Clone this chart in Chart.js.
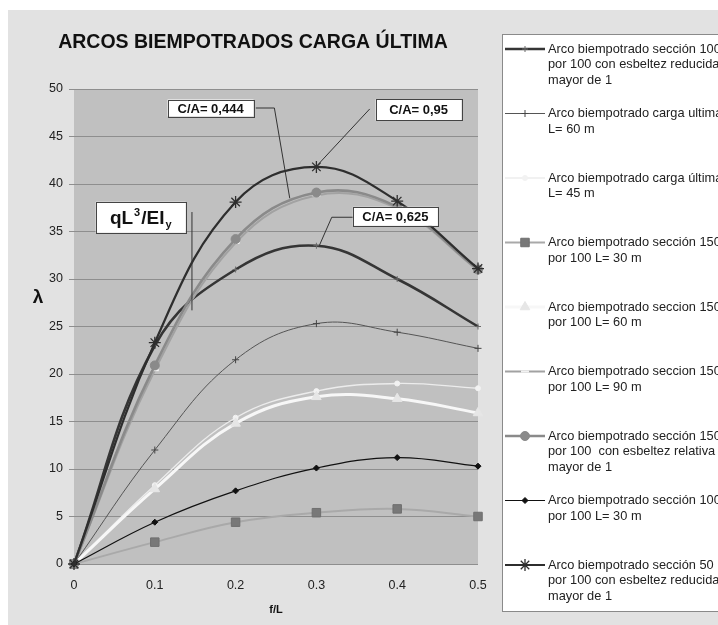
<!DOCTYPE html>
<html>
<head>
<meta charset="utf-8">
<script src="https://cdn.jsdelivr.net/npm/chart.js@4.4.1/dist/chart.umd.min.js"></script>
<style>
html,body{margin:0;padding:0;background:#fff;overflow:hidden;}
canvas{display:block;}
</style>
</head>
<body>
<canvas id="c" width="718" height="625"></canvas>
<script>
// ---------- DATA ----------
const fL = [0, 0.1, 0.2, 0.3, 0.4, 0.5];
const xTickLabels = ['0', '0.1', '0.2', '0.3', '0.4', '0.5'];

const s100EsbRed   = [0, 23.0, 31.0, 33.5, 30.0, 25.0];
const sCargaL60    = [0, 12.0, 21.5, 25.3, 24.4, 22.7];
const sCargaL45    = [0, 8.3, 15.4, 18.2, 19.0, 18.5];
const s150L30      = [0, 2.3, 4.4, 5.4, 5.8, 5.0];
const s150L60      = [0, 7.9, 14.8, 17.6, 17.4, 15.9];
const s150L90      = [0, 20.4, 33.8, 38.8, 37.4, 30.9];
const s150EsbRel   = [0, 20.9, 34.2, 39.1, 37.6, 31.0];
const s100L30      = [0, 4.4, 7.7, 10.1, 11.2, 10.3];
const s50EsbRed    = [0, 23.3, 38.1, 41.8, 38.2, 31.1];

const labels = [
  ['Arco biempotrado sección 100', 'por 100 con esbeltez reducida', 'mayor de 1'],
  ['Arco biempotrado carga ultima', 'L= 60 m'],
  ['Arco biempotrado carga última', 'L= 45 m'],
  ['Arco biempotrado sección 150', 'por 100 L= 30 m'],
  ['Arco biempotrado seccion 150', 'por 100 L= 60 m'],
  ['Arco biempotrado seccion 150', 'por 100 L= 90 m'],
  ['Arco biempotrado sección 150', 'por 100  con esbeltez relativa', 'mayor de 1'],
  ['Arco biempotrado sección 100', 'por 100 L= 30 m'],
  ['Arco biempotrado sección 50', 'por 100 con esbeltez reducida', 'mayor de 1']
];

const title = 'ARCOS BIEMPOTRADOS CARGA ÚLTIMA';
const xTitle = 'f/L';
const yTitle = 'λ';

// annotation anchors in data units
const notes = [
  {text: 'C/A= 0,444', at: [0.169, 48.0], w: 86, h: 17, path: [[0.225, 48.0], [0.248, 48.0], [0.267, 38.5]]},
  {text: 'C/A= 0,95',  at: [0.4265, 47.8], w: 86, h: 21, path: [[0.366, 47.9], [0.3015, 42.0]]},
  {text: 'C/A= 0,625', at: [0.3977, 36.6], w: 85, h: 19, path: [[0.345, 36.5], [0.319, 36.5], [0.303, 33.4]]}
];
const qNote = {at: [0.0826, 36.5], w: 90, h: 31, path: [[0.146, 37.05], [0.146, 26.7]]};

// ---------- STYLES ----------
const FONT = '"Liberation Sans", Arial, sans-serif';
const styles = [
  {c: '#353535', w: 2.6, ps: 'cross', r: 3, pc: '#6a6a6a', pf: '#6a6a6a', pw: 1},
  {c: '#555555', w: 1, ps: 'cross', r: 3.5, pc: '#444', pf: '#444', pw: 1},
  {c: '#ececec', w: 1.3, ps: 'circle', r: 2.5, pc: '#f2f2f2', pf: '#f2f2f2', pw: 1},
  {c: '#a9a9a9', w: 2, ps: 'rect', r: 6, pc: '#6f6f6f', pf: '#787878', pw: 1},
  {c: '#f7f7f7', w: 3, ps: 'triangle', r: 5.5, pc: '#e6e6e6', pf: '#e6e6e6', pw: 1},
  {c: '#a2a2a2', w: 2, ps: 'line', r: 4, pc: '#f2f2f2', pf: '#f2f2f2', pw: 2},
  {c: '#8a8a8a', w: 2.6, ps: 'circle', r: 4.5, pc: '#8a8a8a', pf: '#8a8a8a', pw: 1},
  {c: '#111111', w: 1.2, ps: 'rectRot', r: 3, pc: '#111', pf: '#111', pw: 1},
  {c: '#2e2e2e', w: 2.2, ps: 'star', r: 6, pc: '#2e2e2e', pf: '#2e2e2e', pw: 1.3}
];
const series = [s100EsbRed, sCargaL60, sCargaL45, s150L30, s150L60, s150L90, s150EsbRel, s100L30, s50EsbRed];

const datasets = series.map((s, i) => ({
  label: labels[i].join(' '),
  data: fL.map((x, j) => ({x: x, y: s[j]})),
  borderColor: styles[i].c,
  borderWidth: styles[i].w,
  pointStyle: styles[i].ps,
  pointRadius: styles[i].r,
  pointBorderColor: styles[i].pc,
  pointBackgroundColor: styles[i].pf,
  pointBorderWidth: styles[i].pw,
  tension: 0.4,
  fill: false,
  clip: false,
  order: series.length - i
}));

// ---------- PLUGINS ----------
const frame = {
  id: 'frame',
  beforeDraw(chart) {
    const ctx = chart.ctx, a = chart.chartArea;
    ctx.save();
    ctx.fillStyle = '#ffffff';
    ctx.fillRect(0, 0, chart.width, chart.height);
    ctx.fillStyle = '#e2e2e2';
    ctx.fillRect(8, 10, chart.width - 8, chart.height - 10);
    ctx.fillStyle = '#c0c0c0';
    ctx.fillRect(a.left, a.top, a.right - a.left, a.bottom - a.top);
    // title
    ctx.fillStyle = '#111';
    ctx.font = 'bold 19.5px ' + FONT;
    ctx.textAlign = 'center';
    ctx.textBaseline = 'middle';
    ctx.fillText(title, 253, 43);
    // axis titles
    ctx.font = 'bold 11px ' + FONT;
    ctx.fillText(xTitle, (a.left + a.right) / 2, 610);
    ctx.font = 'bold 19px ' + FONT;
    ctx.fillText(yTitle, 38, 298);
    ctx.restore();
  }
};

const notesPlugin = {
  id: 'notes',
  afterDatasetsDraw(chart) {
    const ctx = chart.ctx, xs = chart.scales.x, ys = chart.scales.y;
    const P = (p) => [xs.getPixelForValue(p[0]), ys.getPixelForValue(p[1])];
    ctx.save();
    ctx.strokeStyle = '#333';
    ctx.lineWidth = 1;
    const box = (cx, cy, w, h) => {
      ctx.fillStyle = '#ffffff';
      ctx.fillRect(cx - w / 2, cy - h / 2, w, h);
      ctx.strokeStyle = '#444';
      ctx.strokeRect(Math.round(cx - w / 2) + 0.5, Math.round(cy - h / 2) + 0.5, w, h);
    };
    const path = (pts) => {
      ctx.beginPath();
      pts.forEach((p, k) => { const q = P(p); if (k) ctx.lineTo(q[0], q[1]); else ctx.moveTo(q[0], q[1]); });
      ctx.strokeStyle = '#333';
      ctx.stroke();
    };
    notes.forEach(n => {
      path(n.path);
      const c = P(n.at);
      box(c[0], c[1], n.w, n.h);
      ctx.fillStyle = '#111';
      ctx.font = 'bold 13px ' + FONT;
      ctx.textAlign = 'center';
      ctx.textBaseline = 'middle';
      ctx.fillText(n.text, c[0], c[1] + 1);
    });
    // qL^3/EI_y
    path(qNote.path);
    const c = P(qNote.at);
    box(c[0], c[1], qNote.w, qNote.h);
    ctx.fillStyle = '#111';
    ctx.textAlign = 'left';
    ctx.textBaseline = 'alphabetic';
    const big = 'bold 19px ' + FONT, small = 'bold 11px ' + FONT;
    const parts = [['qL', big, 0, 1], ['3', small, -8, 1], ['/EI', big, 0, 1], ['y', small, 4, 0]];
    let total = 0;
    parts.forEach(p => { ctx.font = p[1]; total += ctx.measureText(p[0]).width + p[3]; });
    let x = c[0] - total / 2;
    const base = c[1] + 7;
    parts.forEach(p => { ctx.font = p[1]; ctx.fillText(p[0], x, base + p[2]); x += ctx.measureText(p[0]).width + p[3]; });
    ctx.restore();
  }
};

const legendPlugin = {
  id: 'customLegend',
  afterDraw(chart) {
    const ctx = chart.ctx;
    ctx.save();
    ctx.fillStyle = '#ffffff';
    ctx.fillRect(502, 34, 230, 577);
    ctx.strokeStyle = '#8a8a8a';
    ctx.lineWidth = 1;
    ctx.strokeRect(502.5, 34.5, 230, 577);
    chart.data.datasets.forEach((ds, i) => {
      const y = 49 + i * 64.5;
      ctx.beginPath();
      ctx.strokeStyle = ds.borderColor;
      ctx.lineWidth = ds.borderWidth;
      ctx.moveTo(505, y);
      ctx.lineTo(545, y);
      ctx.stroke();
      ctx.fillStyle = ds.pointBackgroundColor;
      ctx.strokeStyle = ds.pointBorderColor;
      ctx.lineWidth = ds.pointBorderWidth;
      Chart.helpers.drawPoint(ctx, {pointStyle: ds.pointStyle, radius: ds.pointRadius, rotation: 0, borderWidth: ds.pointBorderWidth}, 525, y);
      ctx.fillStyle = '#222';
      ctx.font = '12.8px ' + FONT;
      ctx.textAlign = 'left';
      ctx.textBaseline = 'middle';
      labels[i].forEach((t, k) => ctx.fillText(t, 548, y + k * 15.5));
    });
    ctx.restore();
  }
};

// ---------- CHART ----------
new Chart(document.getElementById('c'), {
  type: 'line',
  data: {datasets: datasets},
  options: {
    responsive: false,
    animation: false,
    devicePixelRatio: 1,
    layout: {padding: {left: 0, top: 89, right: 240, bottom: 0}},
    plugins: {legend: {display: false}, title: {display: false}, tooltip: {enabled: false}},
    scales: {
      x: {
        type: 'linear', min: 0, max: 0.5,
        border: {display: false},
        grid: {display: false, drawTicks: false},
        ticks: {stepSize: 0.1, padding: 14, color: '#222', font: {family: FONT, size: 12.5},
                callback: (v, idx) => xTickLabels[idx]},
        afterFit: (s) => { s.height = 61; }
      },
      y: {
        min: 0, max: 50,
        border: {display: false},
        grid: {color: '#8e8e8e', lineWidth: 1, tickLength: 5, drawTicks: true},
        ticks: {stepSize: 5, padding: 6, color: '#222', font: {family: FONT, size: 12.5}},
        afterFit: (s) => { s.width = 74; }
      }
    }
  },
  plugins: [frame, notesPlugin, legendPlugin]
});
</script>
</body>
</html>
